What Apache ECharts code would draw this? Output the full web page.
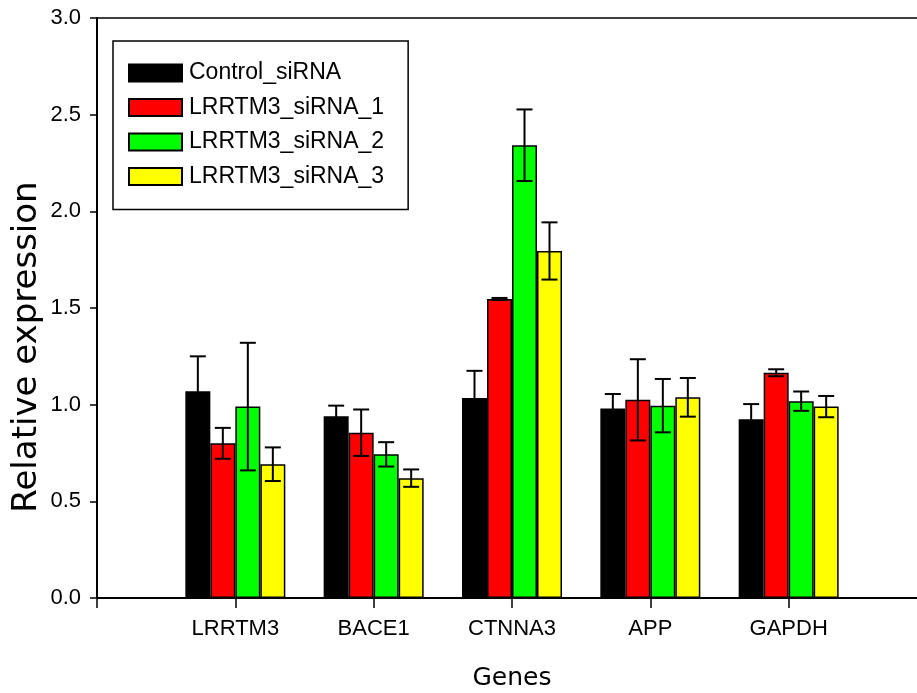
<!DOCTYPE html>
<html>
<head>
<meta charset="utf-8">
<script src="https://cdn.jsdelivr.net/npm/echarts@6/dist/echarts.min.js"></script>
<style>
  html, body { margin: 0; padding: 0; background: #fff; overflow: hidden; }
  #chart { width: 917px; height: 693px; }
</style>
</head>
<body>
<div id="chart"></div>
<script>
// genes on the x axis (empty slots at both ends keep the gap before the first group)
const genes = ['LRRTM3', 'BACE1', 'CTNNA3', 'APP', 'GAPDH']
const seriesNames = ['Control_siRNA', 'LRRTM3_siRNA_1', 'LRRTM3_siRNA_2', 'LRRTM3_siRNA_3']
const seriesColors = ['#000000', '#ff0000', '#00ff00', '#ffff00']

// mean relative expression
const control = [1.07, 0.94, 1.035, 0.98, 0.925]
const siRNA1 = [0.80, 0.855, 1.547, 1.025, 1.165]
const siRNA2 = [0.99, 0.743, 2.342, 0.995, 1.018]
const siRNA3 = [0.692, 0.62, 1.795, 1.038, 0.99]

// error (+/-)
const controlErr = [0.18, 0.055, 0.14, 0.075, 0.078]
const siRNA1Err = [0.08, 0.12, 0.005, 0.21, 0.018]
const siRNA2Err = [0.33, 0.063, 0.185, 0.138, 0.05]
const siRNA3Err = [0.087, 0.045, 0.148, 0.10, 0.055]

const yTicks = [0, 0.5, 1.0, 1.5, 2.0, 2.5, 3.0]

const means = [control, siRNA1, siRNA2, siRNA3]
const errs = [controlErr, siRNA1Err, siRNA2Err, siRNA3Err]

const barWidth = 25
const axisCats = [''].concat(genes, [''])

const chart = echarts.init(document.getElementById('chart'), null, { renderer: 'canvas' })

const barSeries = means.map((vals, s) => ({
  name: seriesNames[s],
  type: 'bar',
  barWidth: barWidth,
  barGap: '0%',
  data: vals.map((v, i) => [i + 1, v]),
  itemStyle: {
    color: seriesColors[s],
    borderColor: '#000',
    borderWidth: 1.5
  },
  emphasis: { disabled: true },
  z: 2
}))

// error bars drawn over the bars
const errSeries = means.map((vals, s) => ({
  name: 'err' + s,
  type: 'custom',
  data: vals.map((v, i) => [i + 1, v, errs[s][i]]),
  z: 5,
  silent: true,
  renderItem: (params, api) => {
    const cat = api.value(0)
    const m = api.value(1)
    const e = api.value(2)
    const offset = (s - 1.5) * barWidth
    const x = api.coord([cat, m])[0] + offset
    const yTop = api.coord([cat, m + e])[1]
    const yBot = api.coord([cat, m - e])[1]
    const cap = 8
    const style = { stroke: '#000', lineWidth: 2 }
    return {
      type: 'group',
      children: [
        { type: 'line', shape: { x1: x, y1: yTop, x2: x, y2: yBot }, style },
        { type: 'line', shape: { x1: x - cap, y1: yTop, x2: x + cap, y2: yTop }, style },
        { type: 'line', shape: { x1: x - cap, y1: yBot, x2: x + cap, y2: yBot }, style }
      ]
    }
  }
}))

const option = {
  backgroundColor: '#fff',
  animation: false,
  grid: {
    left: 97,
    top: 18,
    bottom: 95,
    right: -10,
    outerBoundsMode: 'none',
    containLabel: false,
    show: true,
    borderColor: '#000',
    borderWidth: 1.5
  },
  legend: {
    data: seriesNames,
    orient: 'vertical',
    left: 113,
    top: 41,
    icon: 'rect',
    itemWidth: 53,
    itemHeight: 17,
    itemGap: 11.5,
    padding: [20.5, 24, 21.5, 15],
    borderColor: '#000',
    borderWidth: 1.5,
    selectedMode: false,
    textStyle: {
      fontFamily: 'Liberation Sans',
      fontSize: 23,
      color: '#000',
      lineHeight: 17,
      padding: [0, 0, 0, 2]
    }
  },
  xAxis: {
    type: 'category',
    data: axisCats,
    boundaryGap: false,
    name: 'Genes',
    nameLocation: 'middle',
    nameGap: 68,
    nameTextStyle: { fontFamily: 'DejaVu Sans', fontSize: 25, color: '#000' },
    axisLine: { lineStyle: { color: '#000', width: 2 } },
    axisTick: { show: true, length: 10, lineStyle: { color: '#000', width: 1.5 } },
    axisLabel: { fontFamily: 'Liberation Sans', fontSize: 22, color: '#000', margin: 20, interval: 0 },
    splitLine: { show: false }
  },
  yAxis: {
    type: 'value',
    min: yTicks[0],
    max: yTicks[yTicks.length - 1],
    interval: 0.5,
    axisLine: { show: true, lineStyle: { color: '#000', width: 2 } },
    axisTick: { show: true, length: 7, lineStyle: { color: '#000', width: 1.5 } },
    axisLabel: {
      fontFamily: 'Liberation Sans',
      fontSize: 22,
      color: '#000',
      margin: 16,
      formatter: v => v.toFixed(1)
    },
    splitLine: { show: false }
  },
  graphic: [{
    type: 'text',
    x: 27,
    y: 347,
    rotation: Math.PI / 2,
    style: {
      text: 'Relative expression',
      fontFamily: 'DejaVu Sans',
      fontSize: 34,
      fill: '#000',
      align: 'center',
      verticalAlign: 'middle'
    }
  }],
  series: barSeries.concat(errSeries)
}

chart.setOption(option)
</script>
</body>
</html>
